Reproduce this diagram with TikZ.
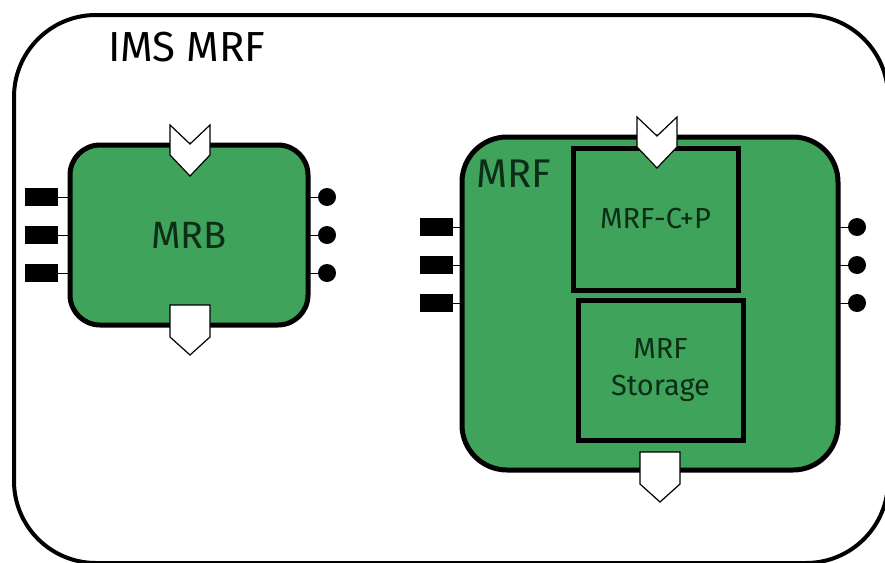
\documentclass[tikz,border=0pt]{standalone}
\usepackage{fontspec}
\setmainfont{Fira Sans}
\definecolor{mrfgreen}{RGB}{63,163,92}
\definecolor{mrftext}{RGB}{12,45,22}
\tikzset{
  box/.style={draw=black, line width=5pt, fill=mrfgreen, inner sep=0pt, outer sep=0pt, text=mrftext},
  portrect/.style={fill=black, minimum width=33pt, minimum height=18pt, inner sep=0pt, outer sep=0pt},
  portdot/.style={circle, fill=black, minimum size=18pt, inner sep=0pt, outer sep=0pt},
  portline/.style={line width=1pt},
  chevron/.style={draw=black, line width=1.2pt, fill=white, line join=miter},
  inport/.pic={\draw[chevron] (-20,0) -- (0,19) -- (20,0) -- (20,30) -- (0,51) -- (-20,30) -- cycle;},
  outport/.pic={\draw[chevron] (-20,0) -- (20,0) -- (20,32) -- (0,50) -- (-20,32) -- cycle;}
}
\begin{document}
\begin{tikzpicture}[x=1pt, y=-1pt]
  \useasboundingbox (0,0) rectangle (885,562);
  % marco exterior
  \draw[line width=4pt, rounded corners=82pt] (14,15) rectangle (888,563);
  \node[font=\fontsize{42}{50}\selectfont] (ims) at (187,47) {IMS MRF};
  % bloque MRB
  \node[box, rounded corners=30pt, minimum width=238pt, minimum height=180pt,
        font=\fontsize{38}{44}\selectfont] (mrb) at (189,235) {MRB};
  \foreach \i/\y in {1/197, 2/235, 3/273} {
    \node[portrect] (mrbin\i) at (41.5,\y) {};
    \node[portdot] (mrbout\i) at (327,\y) {};
    \draw[portline] (mrbin\i) -- (mrb.west |- mrbin\i);
    \draw[portline] (mrb.east |- mrbout\i) -- (mrbout\i);
  }
  \pic at (190,125) {inport};
  \pic at (190,305) {outport};
  % bloque MRF con sus dos partes
  \node[box, rounded corners=45pt, minimum width=376pt, minimum height=333pt] (mrf) at (650,303.5) {};
  \node[font=\fontsize{40}{48}\selectfont, text=mrftext] (mrflabel) at (514,174) {MRF};
  \node[box, minimum width=165pt, minimum height=142pt,
        font=\fontsize{29}{36}\selectfont] (cp) at (655.5,219) {MRF-C+P};
  \node[box, minimum width=165pt, minimum height=140pt, align=center,
        font=\fontsize{29}{37}\selectfont] (sto) at (660.5,370) {MRF\\Storage};
  \foreach \i/\y in {1/227, 2/265, 3/303} {
    \node[portrect] (mrfin\i) at (436.5,\y) {};
    \node[portdot] (mrfout\i) at (857,\y) {};
    \draw[portline] (mrfin\i) -- (mrf.west |- mrfin\i);
    \draw[portline] (mrf.east |- mrfout\i) -- (mrfout\i);
  }
  \pic at (657,117) {inport};
  \pic at (660,452) {outport};
\end{tikzpicture}
\end{document}
